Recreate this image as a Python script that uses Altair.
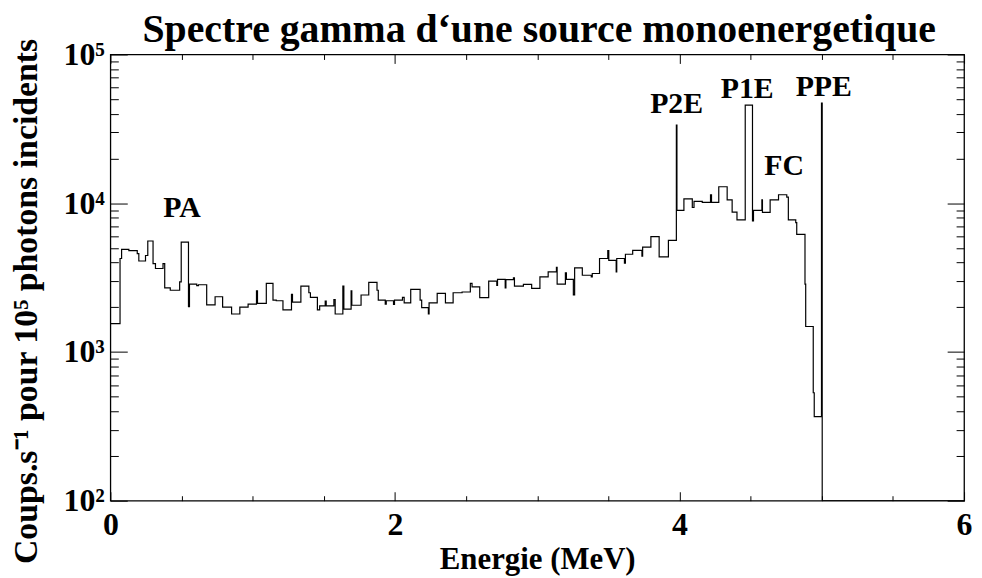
import altair as alt
import pandas as pd

# ---- data (bin start energy in MeV, counts) ----
energy = [0.000, 0.068, 0.079, 0.130, 0.189, 0.200, 0.247, 0.263, 0.300, 0.317,
          0.370, 0.382, 0.421, 0.487, 0.498, 0.549, 0.556, 0.607, 0.619, 0.677,
          0.736, 0.789, 0.852, 0.910, 0.968, 1.027, 1.034, 1.096, 1.143, 1.166,
          1.213, 1.273, 1.280, 1.339, 1.395, 1.406, 1.455, 1.471, 1.510, 1.517,
          1.571, 1.580, 1.634, 1.641, 1.692, 1.697, 1.762, 1.816, 1.874, 1.883,
          1.932, 1.939, 1.990, 1.997, 2.053, 2.065, 2.111, 2.177, 2.188, 2.235,
          2.240, 2.297, 2.355, 2.409, 2.472, 2.530, 2.542, 2.596, 2.659, 2.716,
          2.721, 2.775, 2.780, 2.833, 2.840, 2.903, 2.961, 3.019, 3.077, 3.135,
          3.140, 3.198, 3.205, 3.254, 3.263, 3.317, 3.380, 3.387, 3.438, 3.496,
          3.503, 3.555, 3.559, 3.613, 3.620, 3.671, 3.736, 3.741, 3.799, 3.857,
          3.922, 3.978, 3.982, 4.031, 4.090, 4.102, 4.160, 4.218, 4.225, 4.276,
          4.335, 4.370, 4.404, 4.462, 4.513, 4.520, 4.579, 4.583, 4.637, 4.696,
          4.754, 4.765, 4.817, 4.824, 4.882, 4.887, 4.940, 4.947, 4.998, 5.003,
          6.000]
counts = [1550, 4250, 4900, 4800, 4580, 4090, 4450, 5570, 3930, 3640,
          3930, 2700, 2600, 2960, 5480, 2020, 2860, 2790, 2830, 2070,
          2350, 2000, 1800, 2000, 2100, 2580, 2120, 2890, 2230, 2210,
          1920, 2440, 2160, 2775, 2500, 2330, 1920, 2040, 2200, 2040,
          2250, 1800, 2775, 1940, 2580, 2060, 2415, 2940, 2600, 2234,
          2100, 2210, 2090, 2234, 2330, 2140, 2637, 2234, 1985, 1800,
          2140, 2478, 2140, 2500, 2530, 2890, 2740, 2318, 2994, 2800,
          3075, 2700, 3060, 3150, 2775, 2850, 2680, 3200, 3455, 3700,
          2860, 3400, 3075, 2415, 3672, 3280, 3200, 3370, 4250, 4800,
          4130, 3450, 4250, 3950, 4540, 4820, 4400, 5070, 5960, 4360,
          5620, 33500, 8940, 10690, 9360, 10300, 10140, 11400, 10140, 12900,
          10520, 8700, 7730, 45600, 7600, 8940, 10520, 8690, 10520, 11400,
          11000, 7730, 7400, 6170, 2860, 1483, 532, 368, 47200, 100,
          100]

peak_labels = ["PA", "P2E", "P1E", "PPE", "FC"]
peak_energy = [0.503, 3.980, 4.476, 5.014, 4.735]
peak_counts = [9350, 46300, 58300, 60100, 17800]

x_major = [0, 2, 4, 6]
x_minor = [0.5, 1.0, 1.5, 2.5, 3.0, 3.5, 4.5, 5.0, 5.5]
y_major = [100, 1000, 10000, 100000]
y_minor = [m * 10 ** k for k in range(2, 5) for m in range(2, 10)]

title_text = ["Spectre gamma d\u2018une source monoenergetique"]
x_title = "Energie (MeV)"
y_title = "Coups.s\u207b\u00b9 pour 10\u2075 photons incidents"

# ---- chart ----
W, H = 859, 449
FONT = "Liberation Serif"

df = pd.DataFrame({"E": energy, "N": counts})
lab = pd.DataFrame({"label": peak_labels, "E": peak_energy, "N": peak_counts})
ttl = pd.DataFrame({"t": title_text})

xs = alt.Scale(domain=[0, 6], nice=False, zero=False)
ys = alt.Scale(type="log", domain=[100, 100000], nice=False)

label_expr = ("datum.value == 100 ? '10\u00b2' : datum.value == 1000 ? '10\u00b3' : "
              "datum.value == 10000 ? '10\u2074' : '10\u2075'")

main = alt.Chart(df).mark_line(
    interpolate="step-after", color="black", strokeWidth=1.2, clip=True
).encode(
    x=alt.X("E:Q", scale=xs, axis=alt.Axis(
        orient="bottom", values=x_major, ticks=False, domain=False, grid=False,
        title=x_title, labelFont=FONT, labelFontSize=32, labelFontWeight="bold",
        labelColor="black", labelPadding=9, titleFont=FONT, titleFontSize=31,
        titleFontWeight="bold", titleColor="black", titlePadding=4,
        format="d", labelFlush=False)),
    y=alt.Y("N:Q", scale=ys, axis=alt.Axis(
        orient="left", values=y_major, ticks=False, domain=False, grid=False,
        title=y_title, labelExpr=label_expr, labelFont=FONT, labelFontSize=32,
        labelFontWeight="bold", labelColor="black", labelPadding=6,
        titleFont=FONT, titleFontSize=34, titleFontWeight="bold",
        titleColor="black", titlePadding=20, titleY=248, labelFlush=False)),
)


def tick_layer(xorient, yorient, xvals, yvals, xsize, ysize):
    return alt.Chart(df).mark_line(opacity=0).encode(
        x=alt.X("E:Q", scale=xs, axis=alt.Axis(
            orient=xorient, offset=-H, values=xvals, labels=False, domain=False,
            grid=False, title=None, tickSize=xsize, tickColor="black",
            tickWidth=1)),
        y=alt.Y("N:Q", scale=ys, axis=alt.Axis(
            orient=yorient, offset=-W, values=yvals, labels=False, domain=False,
            grid=False, title=None, tickSize=ysize, tickColor="black",
            tickWidth=1)),
    )


t1 = tick_layer("top", "right", x_major, y_major, 9, 17)
t2 = tick_layer("top", "right", x_minor, y_minor, 5, 8)
t3 = tick_layer("bottom", "left", x_major, y_major, 9, 17)
t4 = tick_layer("bottom", "left", x_minor, y_minor, 5, 8)

texts = alt.Chart(lab).mark_text(
    font=FONT, fontSize=30, fontWeight="bold", color="black",
    align="center", baseline="middle"
).encode(
    x=alt.X("E:Q", scale=xs, axis=None),
    y=alt.Y("N:Q", scale=ys, axis=None),
    text="label:N",
)

title_mark = alt.Chart(ttl).mark_text(
    font=FONT, fontSize=40, fontWeight="bold", color="black",
    align="center", baseline="alphabetic"
).encode(
    x=alt.value(W / 2 + 2),
    y=alt.value(-13),
    text="t:N",
)

chart = alt.layer(main, t1, t2, t3, t4, texts, title_mark).resolve_axis(
    x="independent", y="independent"
).properties(
    width=W, height=H,
    autosize=alt.AutoSizeParams(type="none"),
    padding={"left": 103, "top": 45, "right": 10, "bottom": 74},
).configure_view(stroke="black", strokeWidth=1.3)

chart.save("out.html", embed_options={"renderer": "svg", "actions": False})
